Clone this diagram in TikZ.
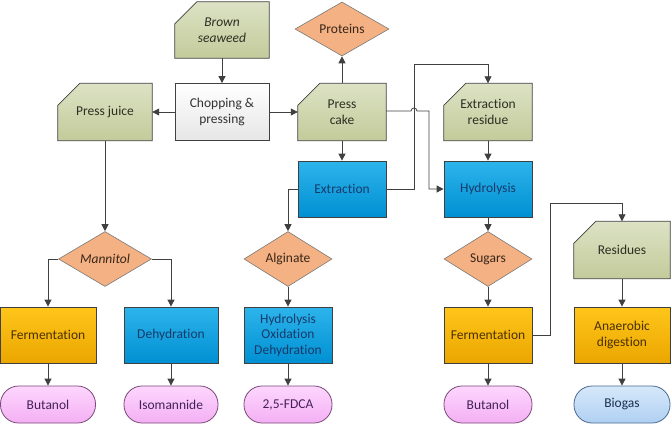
\documentclass[tikz,border=0pt]{standalone}
\usepackage{fontspec}
\setmainfont{Carlito}[Ligatures={NoCommon}]
\usetikzlibrary{arrows.meta,shapes.geometric,backgrounds}
\definecolor{lineC}{HTML}{404040}
\definecolor{grT}{HTML}{DCE2C4}
\definecolor{grB}{HTML}{C3CB9B}
\definecolor{grTxt}{HTML}{2E2E22}
\definecolor{blT}{HTML}{2DB4EC}
\definecolor{blB}{HTML}{0090D2}
\definecolor{blTxt}{HTML}{163A6A}
\definecolor{orT}{HTML}{FFC61A}
\definecolor{orB}{HTML}{EBA600}
\definecolor{orTxt}{HTML}{4A3000}
\definecolor{saC}{HTML}{F4B183}
\definecolor{saTxt}{HTML}{3A2618}
\definecolor{pkT}{HTML}{FDD6FD}
\definecolor{pkB}{HTML}{F4B0F4}
\definecolor{pkLine}{HTML}{7A4A7A}
\definecolor{pkTxt}{HTML}{44205A}
\definecolor{lbT}{HTML}{D6E8FA}
\definecolor{lbB}{HTML}{B0D0F2}
\definecolor{lbLine}{HTML}{4A6A90}
\definecolor{lbTxt}{HTML}{1A3050}
\definecolor{whB}{HTML}{E6E6E6}
\newcommand{\docbg}[1]{\path[docshape] ([yshift=-22pt]#1.north west) -- ([xshift=22pt]#1.north west) -- (#1.north east) -- (#1.south east) -- (#1.south west) -- cycle;}
\begin{document}
\begin{tikzpicture}[x=1pt,y=-1pt,
  every node/.style={font=\fontsize{13.5}{15.5}\selectfont, align=center, inner sep=0pt},
  conn/.style={draw=lineC, line width=0.8pt, -{Triangle[length=7pt,width=7pt]}},
  docnode/.style={minimum width=#1, minimum height=57pt, text=grTxt},
  docshape/.style={draw=lineC, line width=0.8pt, top color=grT, bottom color=grB},
  bluebox/.style={draw=lineC, line width=0.8pt, top color=blT, bottom color=blB, text=blTxt, minimum width=#1, minimum height=56pt},
  orbox/.style={draw=lineC, line width=0.8pt, top color=orT, bottom color=orB, text=orTxt, minimum width=#1, minimum height=56pt},
  whbox/.style={draw=lineC, line width=0.8pt, top color=white, bottom color=whB, text=black!80, minimum width=#1, minimum height=57pt},
  dia/.style={diamond, draw=lineC!70, line width=0.6pt, fill=saC, text=saTxt, minimum width=#1, minimum height=55pt, aspect=1.7},
  pill/.style={rectangle, rounded corners=18pt, draw=pkLine, line width=0.8pt, top color=pkT, bottom color=pkB, text=pkTxt, minimum width=#1, minimum height=37pt},
  pillb/.style={rectangle, rounded corners=18pt, draw=lbLine, line width=0.8pt, top color=lbT, bottom color=lbB, text=lbTxt, minimum width=#1, minimum height=37pt}
]
\useasboundingbox (0,0) rectangle (672,426);
% top row
\node[docnode=94pt, minimum height=56pt] (seaweed) at (222,30) {\itshape Brown\\\itshape seaweed};
\node[whbox=94pt] (chop) at (222,112) {Chopping \&\\pressing};
\node[docnode=94pt] (juice) at (105,112) {Press juice};
\node[docnode=88pt] (cake) at (342,112) {Press\\cake};
\node[dia=94pt, minimum height=54pt] (proteins) at (342,29) {Proteins};
\node[bluebox=88pt] (extract) at (342,189) {Extraction};
\node[docnode=88pt] (resid) at (488,112) {Extraction\\residue};
\node[bluebox=88pt] (hydro) at (488,189) {Hydrolysis};
% diamonds
\node[dia=93pt] (mannitol) at (105,259) {\itshape Mannitol};
\node[dia=88pt] (alginate) at (288,259) {Alginate};
\node[dia=88pt] (sugars) at (488,259) {Sugars};
\node[docnode=96pt] (residues) at (622,250) {Residues};
% process row
\node[orbox=96pt] (ferm1) at (48,335) {Fermentation};
\node[bluebox=94pt] (dehyd) at (171,335) {Dehydration};
\node[bluebox=88pt] (hod) at (288,335) {Hydrolysis\\Oxidation\\Dehydration};
\node[orbox=88pt] (ferm2) at (488,335) {Fermentation};
\node[orbox=96pt] (anaer) at (622,335) {Anaerobic\\digestion};
% products
\node[pill=95pt] (but1) at (48,404.5) {Butanol};
\node[pill=94pt] (iso) at (171,404.5) {Isomannide};
\node[pill=88pt] (fdca) at (288,404.5) {2,5-FDCA};
\node[pill=88pt] (but2) at (488,404.5) {Butanol};
\node[pillb=96pt] (biogas) at (622,404.5) {Biogas};
\begin{pgfonlayer}{background}
\docbg{seaweed}
\docbg{juice}
\docbg{cake}
\docbg{resid}
\docbg{residues}
\end{pgfonlayer}
% connectors
\draw[conn] (seaweed) -- (chop);
\draw[conn] (chop) -- (juice);
\draw[conn] (chop) -- (cake);
\draw[conn] (cake) -- (proteins);
\draw[conn] (cake) -- (extract);
\coordinate (e1) at (414,189);
\coordinate (e2) at (414,64);
\coordinate (e3) at (488,64);
\draw[conn] (extract.east) -- (e1) -- (e2) -- (e3) -- (resid.north);
\coordinate (h1) at (411,111);
\coordinate (h2) at (429,111);
\draw[conn] (cake.east |- h1) -- (h1) arc[start angle=180, end angle=0, radius=3pt] -- (h2) |- (hydro.west);
\draw[conn] (resid) -- (hydro);
\draw[conn] (extract.west) -| (alginate.north);
\draw[conn] (juice) -- (mannitol);
\draw[conn] (mannitol.west) -| (ferm1.north);
\draw[conn] (mannitol.east) -| (dehyd.north);
\draw[conn] (alginate) -- (hod);
\draw[conn] (hydro) -- (sugars);
\draw[conn] (sugars) -- (ferm2);
\coordinate (f1) at (550,335);
\coordinate (f2) at (550,203);
\draw[conn] (ferm2.east) -- (f1) -- (f2) -| (residues.north);
\draw[conn] (residues) -- (anaer);
\draw[conn] (ferm1) -- (but1);
\draw[conn] (dehyd) -- (iso);
\draw[conn] (hod) -- (fdca);
\draw[conn] (ferm2) -- (but2);
\draw[conn] (anaer) -- (biogas);
\end{tikzpicture}
\end{document}
